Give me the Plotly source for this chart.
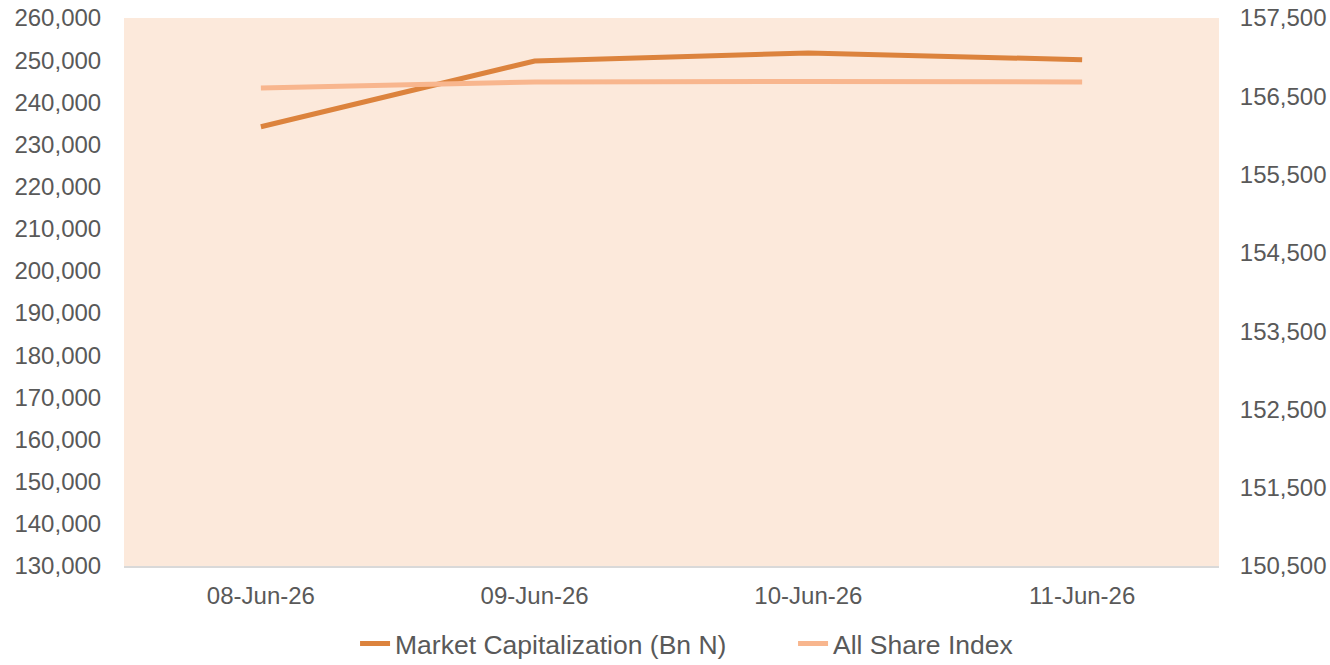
import plotly.graph_objects as go

dates = ["08-Jun-26", "09-Jun-26", "10-Jun-26", "11-Jun-26"]
market_cap = [234200, 249800, 251700, 250100]
all_share_index = [156606, 156683, 156689, 156683]

left_ticks = list(range(130000, 260001, 10000))
right_ticks = list(range(150500, 157501, 1000))

FONT = "Liberation Sans, Arial, sans-serif"
TXT = "#595959"
FS = 24

fig = go.Figure()
fig.add_trace(go.Scatter(x=dates, y=market_cap, name="Market Capitalization (Bn N)",
                         mode="lines", line=dict(color="#DC833D", width=5), yaxis="y"))
fig.add_trace(go.Scatter(x=dates, y=all_share_index, name="All Share Index",
                         mode="lines", line=dict(color="#F8B68E", width=5), yaxis="y2"))

fig.update_layout(
    width=1330, height=665,
    margin=dict(l=124, r=111, t=18, b=99, autoexpand=False),
    paper_bgcolor="white",
    plot_bgcolor="#FCE9DB",
    font=dict(family=FONT, size=FS, color=TXT),
    showlegend=True,
    legend=dict(orientation="h", x=0.211, xanchor="left", y=-0.098, yanchor="top",
                font=dict(size=26.5, color=TXT), bgcolor="rgba(0,0,0,0)",
                entrywidth=393, entrywidthmode="pixels"),
    xaxis=dict(type="category", range=[-0.5, 3.5], showgrid=False, automargin=False,
               showline=True, linecolor="#D9D9D9", linewidth=2,
               ticks="outside", ticklen=7, tickcolor="rgba(0,0,0,0)",
               tickfont=dict(size=FS, color=TXT), zeroline=False),
    yaxis=dict(range=[130000, 260000], tickvals=left_ticks, tickformat=",d",
               showgrid=False, zeroline=False, showline=False, automargin=False,
               ticks="outside", ticklen=17, tickcolor="rgba(0,0,0,0)",
               tickfont=dict(size=FS, color=TXT)),
    yaxis2=dict(range=[150500, 157500], tickvals=right_ticks, tickformat=",d",
                overlaying="y", side="right", showgrid=False, zeroline=False, automargin=False,
                showline=False, ticks="outside", ticklen=15, tickcolor="rgba(0,0,0,0)",
                tickfont=dict(size=FS, color=TXT)),
)

fig.write_html("out.html", config={"displayModeBar": False},
               post_script="document.body.style.margin='0';document.body.style.overflow='hidden';")
